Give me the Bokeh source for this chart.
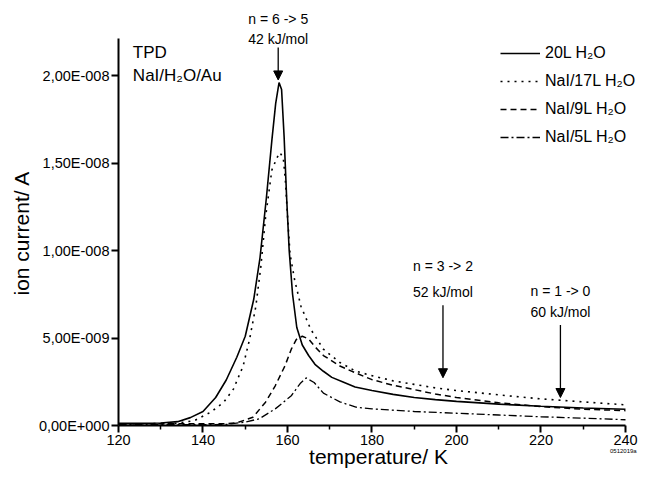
from bokeh.plotting import figure
from bokeh.models import (Range1d, FixedTicker, Legend, LegendItem, Label, Arrow, NormalHead,
                          LinearAxis, Title)
from bokeh.embed import file_html
from bokeh.resources import INLINE

FONT = "Liberation Sans"

# temperature (K) and ion current (units of 1e-9 A) for each series
t_20L = [120, 125, 130, 134, 137, 140, 143, 145.5, 148, 150, 152, 153.5, 155, 156.3, 157.2, 158,
         158.6, 159.2, 159.8, 160.4, 161.2, 162.2, 163.5, 165, 166.5, 168.5, 170.5, 173, 176, 180,
         185, 190, 195, 200, 210, 220, 230, 240]
i_20L = [0.12, 0.12, 0.14, 0.22, 0.45, 0.8, 1.6, 2.6, 3.9, 5.1, 7.2, 9.6, 13.0, 16.3, 18.4, 19.6,
         19.2, 16.5, 13.0, 10.0, 7.5, 5.6, 4.6, 4.0, 3.5, 3.1, 2.75, 2.5, 2.2, 2.0,
         1.78, 1.6, 1.48, 1.38, 1.22, 1.1, 1.0, 0.93]

t_17L = [120, 125, 130, 134, 138, 141.8, 144.9, 147.2, 149.5, 151, 152.5, 153.7, 154.8, 156.3, 157.5,
         158.2, 159, 159.5, 160, 160.6, 161.7, 163.2, 165.5, 168.5, 172.4, 176.2, 180, 185, 190, 195,
         200, 210, 220, 230, 240]
i_17L = [0.1, 0.1, 0.11, 0.13, 0.28, 0.76, 1.33, 2.08, 3.4, 4.9, 6.8, 9.1, 11.9, 14.6, 15.3,
         15.6, 15.3, 14.0, 12.0, 9.8, 8.3, 6.8, 5.5, 4.36, 3.6, 3.1, 2.85, 2.55, 2.35, 2.15,
         2.0, 1.75, 1.52, 1.35, 1.18]

t_9L = [120, 130, 140, 145, 148, 151.8, 154.8, 157.1, 159.4, 160.9, 162.1, 163.5, 165, 166.5, 168.5,
        172.4, 176.2, 180, 185, 190, 195, 200, 210, 220, 230, 240]
i_9L = [0.1, 0.1, 0.1, 0.1, 0.15, 0.47, 1.33, 2.27, 3.41, 4.36, 4.92, 5.1, 4.95, 4.5, 4.0,
        3.4, 3.0, 2.62, 2.3, 2.05, 1.8, 1.6, 1.3, 1.08, 0.93, 0.85]

t_5L = [120, 130, 140, 145.6, 150, 153.3, 157.1, 160.9, 163, 164.4, 166.3, 168.5, 172.4, 176.2, 180,
        190, 200, 210, 220, 230, 240]
i_5L = [0.05, 0.05, 0.05, 0.06, 0.2, 0.38, 0.95, 1.7, 2.4, 2.72, 2.46, 1.85, 1.35, 1.05, 0.95,
        0.8, 0.7, 0.6, 0.5, 0.42, 0.33]

series_labels = ["20L H\u2082O", "NaI/17L H\u2082O", "NaI/9L H\u2082O", "NaI/5L H\u2082O"]

x_ticks = [120, 140, 160, 180, 200, 220, 240]
x_minor = [130, 150, 170, 190, 210, 230]
y_ticks = [0, 5, 10, 15, 20]
y_tick_labels = ["0,00E+000", "5,00E-009", "1,00E-008", "1,50E-008", "2,00E-008"]

# annotations (temperature of arrow, arrow start / end, two text lines and their heights)
ann_t = [157.8, 196.8, 224.6]
ann_y0 = [21.6, 6.87, 5.74]
ann_y1 = [19.75, 2.73, 1.60]
ann_line1 = ["n = 6 -> 5", "n = 3 -> 2", "n = 1 -> 0"]
ann_line2 = ["42 kJ/mol", "52 kJ/mol", "60 kJ/mol"]
ann_y_line1 = [23.25, 9.12, 7.71]
ann_y_line2 = [22.1, 7.62, 6.49]

code_text = "0512019a"
code_pos = 239.5

p = figure(width=638, height=470, output_backend="svg", toolbar_location=None, title=None,
           x_range=Range1d(120, 243.08), y_range=Range1d(0, 24.29),
           min_border_left=118, min_border_right=0, min_border_top=0, min_border_bottom=45)
p.outline_line_color = None
p.grid.visible = False

r1 = p.line(t_20L, i_20L, line_color="black", line_width=1.6)
r2 = p.line(t_17L, i_17L, line_color="black", line_width=1.6, line_dash="2 5")
r3 = p.line(t_9L, i_9L, line_color="black", line_width=1.5, line_dash="6 4")
r4 = p.line(t_5L, i_5L, line_color="black", line_width=1.3, line_dash="8 3 2 3")

xax = p.xaxis[0]
yax = p.yaxis[0]
xax.ticker = FixedTicker(ticks=x_ticks, minor_ticks=x_minor)
yax.ticker = FixedTicker(ticks=y_ticks, minor_ticks=[])
yax.major_label_overrides = {k: v for k, v in zip(y_ticks, y_tick_labels)}
xax.bounds = (120, 240)
yax.bounds = (0, 22.1)

for ax in (xax, yax):
    ax.axis_line_width = 2
    ax.axis_line_color = "black"
    ax.major_tick_line_width = 2
    ax.minor_tick_line_width = 1.5
    ax.major_tick_line_color = "black"
    ax.minor_tick_line_color = "black"
    ax.major_tick_in = 0
    ax.major_tick_out = 7
    ax.minor_tick_in = 0
    ax.minor_tick_out = 4
    ax.major_label_text_font = FONT
    ax.major_label_text_font_size = "14.5px"
    ax.major_label_text_color = "black"

xax.major_label_standoff = 2
yax.major_label_standoff = 2

# y-axis title, centred on the drawn axis line rather than on the whole frame
ytitle = Title(text="ion current/ A", align="left", offset=130, standoff=6,
               text_font=FONT, text_font_size="21px", text_font_style="normal",
               text_color="black")
p.add_layout(ytitle, "left")

# second, line-less bottom axis carrying the axis title and the small file code
code_axis = LinearAxis(ticker=FixedTicker(ticks=[code_pos], minor_ticks=[]),
                       major_label_overrides={code_pos: code_text},
                       axis_label="temperature/ K")
code_axis.axis_line_alpha = 0
code_axis.major_tick_line_alpha = 0
code_axis.minor_tick_line_alpha = 0
code_axis.major_tick_in = 0
code_axis.major_tick_out = 0
code_axis.major_label_standoff = 0
code_axis.major_label_text_font = FONT
code_axis.major_label_text_font_size = "6px"
code_axis.major_label_text_color = "black"
code_axis.axis_label_standoff = -12
code_axis.axis_label_text_font = FONT
code_axis.axis_label_text_font_size = "21px"
code_axis.axis_label_text_font_style = "normal"
code_axis.axis_label_text_color = "black"
p.add_layout(code_axis, "below")

legend = Legend(items=[LegendItem(label=series_labels[0], renderers=[r1]),
                       LegendItem(label=series_labels[1], renderers=[r2]),
                       LegendItem(label=series_labels[2], renderers=[r3]),
                       LegendItem(label=series_labels[3], renderers=[r4])],
                location=(380, 276), orientation="vertical")
legend.label_text_font = FONT
legend.label_text_font_size = "16px"
legend.label_text_color = "black"
legend.glyph_width = 40
legend.glyph_height = 20
legend.label_height = 20
legend.spacing = 8
legend.padding = 2
legend.margin = 0
legend.label_standoff = 5
legend.border_line_alpha = 0
legend.background_fill_alpha = 0
p.add_layout(legend, "center")

p.add_layout(Label(x=123.4, y=21.3, text="TPD", text_font=FONT, text_font_size="17px",
                   text_baseline="middle", text_color="black"))
p.add_layout(Label(x=123.4, y=20.0, text="NaI/H\u2082O/Au", text_font=FONT, text_font_size="17px",
                   text_baseline="middle", text_color="black"))

for t, y0, y1, l1, l2, yl1, yl2 in zip(ann_t, ann_y0, ann_y1, ann_line1, ann_line2,
                                       ann_y_line1, ann_y_line2):
    p.add_layout(Arrow(end=NormalHead(size=9, fill_color="black", line_color="black", line_width=1),
                       x_start=t, y_start=y0, x_end=t, y_end=y1,
                       line_color="black", line_width=1.3))
    p.add_layout(Label(x=t, y=yl1, text=l1, text_font=FONT, text_font_size="14px",
                       text_align="center", text_baseline="middle", text_color="black"))
    p.add_layout(Label(x=t, y=yl2, text=l2, text_font=FONT, text_font_size="14px",
                       text_align="center", text_baseline="middle", text_color="black"))

open("out.html", "w").write(file_html(p, INLINE))
